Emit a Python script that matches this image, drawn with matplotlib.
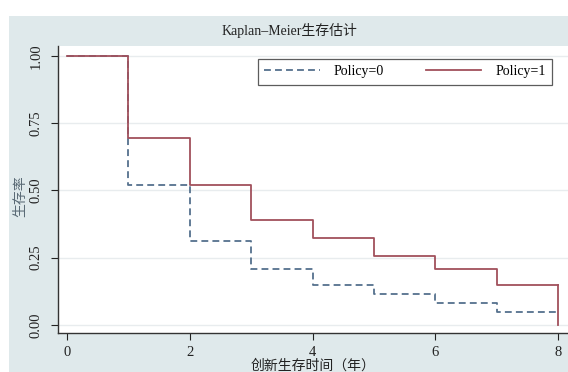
import matplotlib
matplotlib.use("Agg")
import matplotlib.pyplot as plt
from matplotlib.patches import Rectangle

plt.rcParams['font.family'] = ['Liberation Serif', 'Noto Sans CJK SC', 'DejaVu Sans']

# Data
times = [0, 1, 2, 3, 4, 5, 6, 7, 8]
surv_p0 = [1.00, 0.52, 0.312, 0.208, 0.149, 0.115, 0.082, 0.048, 0.048]
surv_p1 = [1.00, 0.695, 0.52, 0.39, 0.323, 0.257, 0.208, 0.149, 0.0]
labels = ["Policy=0", "Policy=1"]
yticks = [0.00, 0.25, 0.50, 0.75, 1.00]
xticks = [0, 2, 4, 6, 8]

W, H = 568, 372
fig = plt.figure(figsize=(W / 100, H / 100), dpi=100, facecolor='white')
bg = '#dfe9eb'
fig.patches.append(Rectangle((9 / W, 0), 1 - 9 / W, (H - 16) / H,
                             transform=fig.transFigure, facecolor=bg,
                             edgecolor='none', zorder=-10))

ax = fig.add_axes([58 / W, (H - 333) / H, 1 - 58 / W, (333 - 46) / H])
ax.set_facecolor('white')

c0 = '#55718d'
c1 = '#a1505c'
ax.step(times, surv_p0, where='post', color=c0,
        linestyle=(0, (3.8, 2.3)), linewidth=1.3, label=labels[0], zorder=3)
# Policy=1: last point drops to 0 at t=8
ax.step(times, surv_p1[:-1] + [surv_p1[-2]], where='post', color=c1,
        linewidth=1.3, label=labels[1], zorder=3)
ax.plot([times[-1], times[-1]], [surv_p1[-2], surv_p1[-1]], color=c1,
        linewidth=1.3, zorder=3)

ax.set_xlim(-0.147, 8.16)
ax.set_ylim(-0.03, 1.037)
ax.set_xticks(xticks)
ax.set_yticks(yticks)
ax.set_yticklabels([f"{v:.2f}" for v in yticks], rotation=90, va='center')
ax.tick_params(axis='both', direction='out', length=5, width=0.8,
               colors='#222222', labelsize=10.5)
ax.tick_params(axis='x', pad=4.5)
ax.tick_params(axis='y', pad=6)
ax.grid(axis='y', color='#e8ecee', linewidth=1.0, zorder=1)
for s in ['top', 'right']:
    ax.spines[s].set_visible(False)
for s in ['left', 'bottom']:
    ax.spines[s].set_color('#333333')
    ax.spines[s].set_linewidth(1.0)

ax.set_xlabel("创新生存时间（年）", fontsize=10, color='#222222', va='center')
ax.xaxis.set_label_coords(0.5, (333 - 366) / 287)
ax.set_ylabel("生存率", fontsize=10, color='#5a6a75', va='center')
ax.yaxis.set_label_coords((21 - 58) / 510, (333 - 196) / 287)

fig.text(289.5 / W, (H - 31) / H, "Kaplan–Meier生存估计",
         ha='center', va='center', fontsize=10, color='#222222')

x0 = (258 - 58) / (W - 58)
x1 = (552 - 58) / (W - 58)
y1 = (333 - 59) / (333 - 46)
y0 = (333 - 86) / (333 - 46)
leg = ax.legend(loc='upper left', bbox_to_anchor=(x0, y0, x1 - x0, y1 - y0),
                mode='expand', borderaxespad=0,
                ncol=2, fontsize=10, frameon=True, fancybox=False,
                edgecolor='#333333', handlelength=4, columnspacing=2.5,
                borderpad=0.45, handletextpad=1.0)
leg.get_frame().set_linewidth(0.9)

fig.savefig("out.png", dpi=100, facecolor='white')
